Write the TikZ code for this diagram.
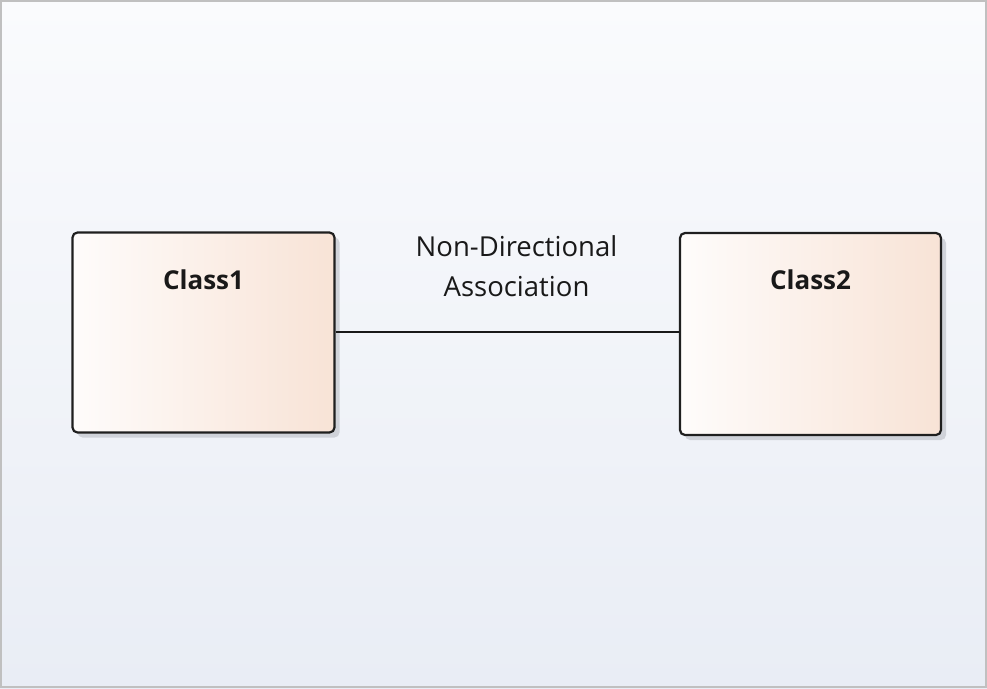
\documentclass[tikz,border=0pt]{standalone}
\usepackage{fontspec}
\setmainfont{Open Sans}
\usetikzlibrary{shadows}
\definecolor{bgtop}{HTML}{FAFBFD}
\definecolor{bgbot}{HTML}{E9EDF5}
\definecolor{frame}{HTML}{C0C0C0}
\definecolor{boxl}{HTML}{FEFCFB}
\definecolor{boxr}{HTML}{F8E3D6}
\definecolor{shade}{HTML}{C8CBD2}
\tikzset{
  classbox/.style={draw=black!88, line width=2.2pt, rounded corners=5pt,
    left color=boxl, right color=boxr, minimum width=262pt, minimum height=200pt,
    drop shadow={shadow xshift=5pt, shadow yshift=-5pt, fill=shade, opacity=0.8}},
  classtitle/.style={font=\fontsize{26}{30}\selectfont\bfseries, text=black!90},
  assoc/.style={draw=black!90, line width=2pt},
  lbl/.style={font=\fontsize{27.5}{40}\selectfont, align=center, text=black!90}
}
\begin{document}
\begin{tikzpicture}[x=1pt,y=-1pt]
\useasboundingbox (0,0) rectangle (987,688);
\shade[top color=bgtop, bottom color=bgbot] (0,0) rectangle (987,688);
\draw[frame, line width=2pt] (1,1) rectangle (986,687);
\node[classbox] (c1) at (203.5,332.5) {};
\node[classbox, minimum width=261pt, minimum height=202pt] (c2) at (810.5,334) {};
\node[classtitle] (t1) at (203.5,280) {Class1};
\node[classtitle] (t2) at (810.5,280) {Class2};
\draw[assoc] (c1.east |- 0,332) coordinate (a) -- (c2.west |- 0,332) coordinate (b);
\node[lbl] (l) at (516.5,266) {Non-Directional\\Association};
\end{tikzpicture}
\end{document}
